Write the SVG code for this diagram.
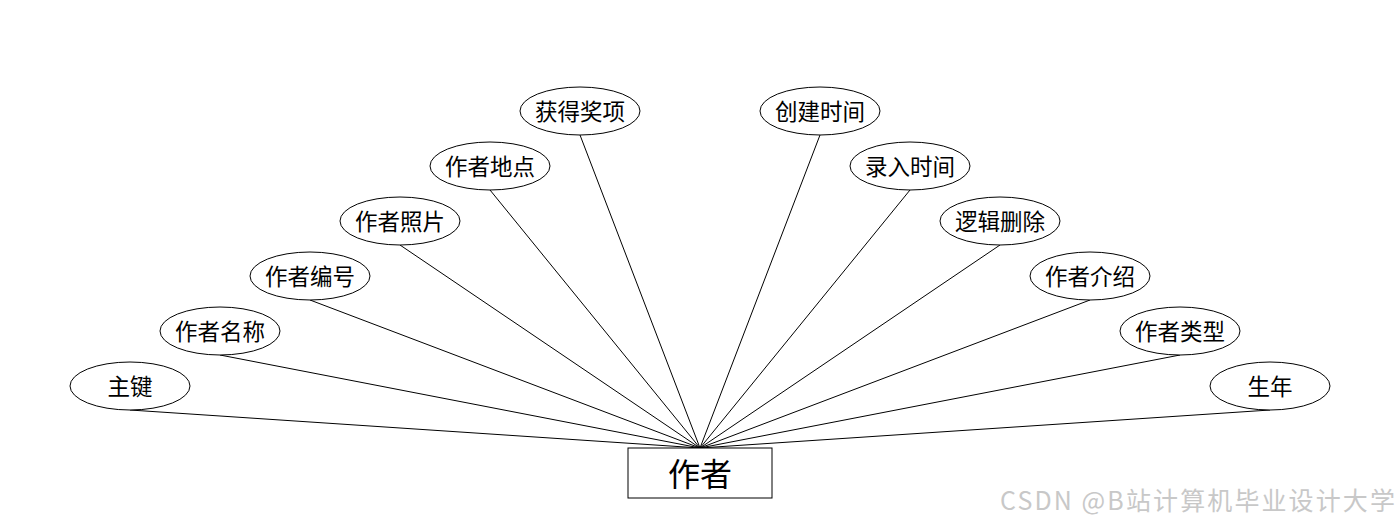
<svg xmlns="http://www.w3.org/2000/svg" width="1400" height="528" viewBox="0 0 1400 528">
<style>
.e{fill:#fff;stroke:#000;stroke-width:1}
.t{font-family:"Noto Sans CJK SC","Noto Sans",sans-serif;font-size:22.5px;fill:#000;text-anchor:middle;dominant-baseline:central}
.c line{stroke:#000;stroke-width:1}
</style>
<rect width="1400" height="528" fill="#fff"/>
<g class="c" id="connectors">
<line x1="130" y1="410" x2="700" y2="448"/>
<line x1="220" y1="355" x2="700" y2="448"/>
<line x1="310" y1="300" x2="700" y2="448"/>
<line x1="400" y1="245" x2="700" y2="448"/>
<line x1="490" y1="190" x2="700" y2="448"/>
<line x1="580" y1="135" x2="700" y2="448"/>
<line x1="820" y1="135" x2="700" y2="448"/>
<line x1="910" y1="190" x2="700" y2="448"/>
<line x1="1000" y1="245" x2="700" y2="448"/>
<line x1="1090" y1="300" x2="700" y2="448"/>
<line x1="1180" y1="355" x2="700" y2="448"/>
<line x1="1270" y1="410" x2="700" y2="448"/>
</g>
<g id="n1"><ellipse class="e" cx="130" cy="386" rx="60" ry="24"/><text class="t" x="130" y="385">主键</text></g>
<g id="n2"><ellipse class="e" cx="220" cy="331" rx="60" ry="24"/><text class="t" x="220" y="330">作者名称</text></g>
<g id="n3"><ellipse class="e" cx="310" cy="276" rx="60" ry="24"/><text class="t" x="310" y="275">作者编号</text></g>
<g id="n4"><ellipse class="e" cx="400" cy="221" rx="60" ry="24"/><text class="t" x="400" y="220">作者照片</text></g>
<g id="n5"><ellipse class="e" cx="490" cy="166" rx="60" ry="24"/><text class="t" x="490" y="165">作者地点</text></g>
<g id="n6"><ellipse class="e" cx="580" cy="111" rx="60" ry="24"/><text class="t" x="580" y="110">获得奖项</text></g>
<g id="n7"><ellipse class="e" cx="820" cy="111" rx="60" ry="24"/><text class="t" x="820" y="110">创建时间</text></g>
<g id="n8"><ellipse class="e" cx="910" cy="166" rx="60" ry="24"/><text class="t" x="910" y="165">录入时间</text></g>
<g id="n9"><ellipse class="e" cx="1000" cy="221" rx="60" ry="24"/><text class="t" x="1000" y="220">逻辑删除</text></g>
<g id="n10"><ellipse class="e" cx="1090" cy="276" rx="60" ry="24"/><text class="t" x="1090" y="275">作者介绍</text></g>
<g id="n11"><ellipse class="e" cx="1180" cy="331" rx="60" ry="24"/><text class="t" x="1180" y="330">作者类型</text></g>
<g id="n12"><ellipse class="e" cx="1270" cy="386" rx="60" ry="24"/><text class="t" x="1270" y="385">生年</text></g>
<g id="author"><rect x="628" y="448" width="144" height="50" fill="#fff" stroke="#000"/><text class="t" x="700" y="472" style="font-size:32px">作者</text></g>
<text x="1395" y="510" text-anchor="end" style="font-family:'Noto Sans CJK SC','Noto Sans',sans-serif;font-size:25px;fill:#c8c8c8" textLength="395">CSDN @B站计算机毕业设计大学</text>
</svg>
